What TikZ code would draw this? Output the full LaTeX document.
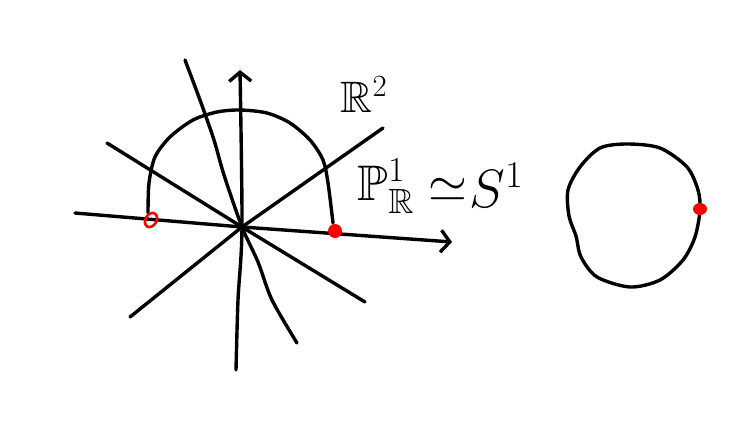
\RequirePackage{fix-cm}
\documentclass[tikz,border=0pt]{standalone}
\usepackage{amsmath, amssymb}
\usetikzlibrary{arrows.meta}

\begin{document}
\begin{tikzpicture}[x=1pt,y=-1pt,line width=3.4pt,line cap=round,line join=round,
  >={Straight Barb[length=9pt,width=22pt]},
  lbl/.style={inner sep=0pt,font=\fontsize{#1}{#1}\selectfont}]
\useasboundingbox (0,0) rectangle (753,445);
% lines through the origin
\draw (75,213) -- (242,227);
\draw[->] (242,227) -- (452,242);
\draw[->] plot[smooth] coordinates {(236,370) (238,300) (242,227) (240,70)};
\draw plot[smooth] coordinates {(185,60) (200,100) (214,140) (224,175) (242,227) (258,262) (272,300) (297,343)};
\draw (107,143) -- (242,227) -- (365,302);
\draw (383,128) -- (242,227) -- (130,317);
% half circle
\draw plot[smooth] coordinates {(148,213) (149,183) (155,157) (170,137) (193,120) (217,112) (240,110) (267,113) (290,123) (310,140) (323,160) (328,183) (333,223)};
\draw[red,line width=2.6pt,rotate around={-30:(151,220)}] (151,220) ellipse (5.5 and 7.5);
\fill[red] (335,231) circle (7);
% labels
\node[lbl=44] (r2) at (364,95) {$\mathbb{R}^2$};
\node[lbl=50,anchor=base west] (proj) at (356,200) {$\mathbb{P}^1_{\mathbb{R}}$};
\node[lbl=50] (sim) at (448,190) {$\simeq$};
\node[lbl=54,anchor=base west] (s1) at (468,207) {$S^1$};
% the circle
\draw plot[smooth cycle] coordinates {(627,144) (660,148) (687,167) (698,190) (700,210) (695,237) (683,260) (660,280) (630,287) (597,277) (581,257) (576,236) (569,216) (568,190) (580,167) (600,148)};
\fill[red] (700,209) ellipse (7 and 6);
\end{tikzpicture}
\end{document}
